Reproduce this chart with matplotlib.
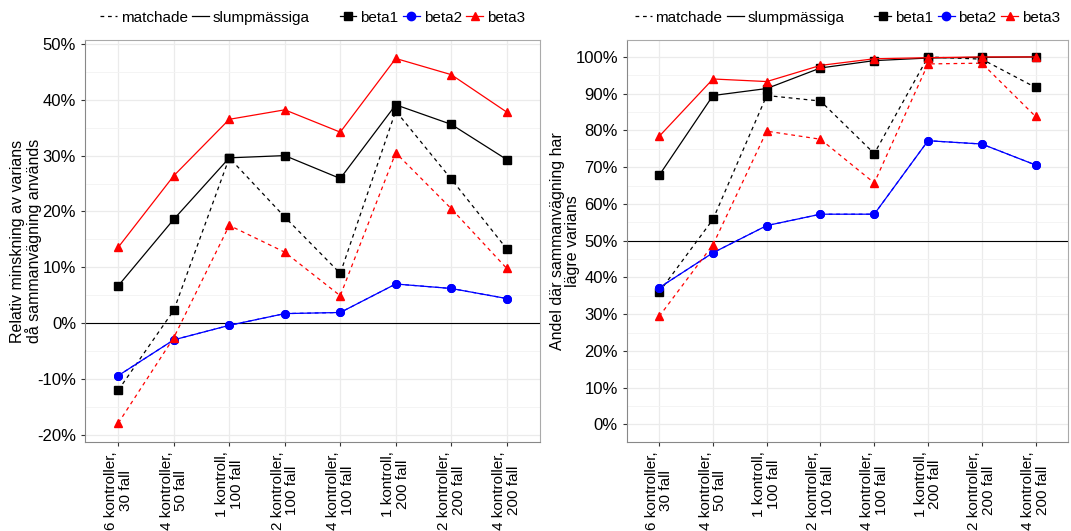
import matplotlib
matplotlib.use("Agg")
import matplotlib.pyplot as plt
from matplotlib.lines import Line2D
from matplotlib.ticker import FuncFormatter, MultipleLocator

plt.rcParams['font.family'] = ['Liberation Sans', 'DejaVu Sans']

# kategorier
kategorier = ["6 kontroller,\n30 fall", "4 kontroller,\n50 fall", "1 kontroll,\n100 fall",
              "2 kontroller,\n100 fall", "4 kontroller,\n100 fall", "1 kontroll,\n200 fall",
              "2 kontroller,\n200 fall", "4 kontroller,\n200 fall"]

# vänster panel: relativ minskning av varians (%)
v_beta1_slump = [6.7, 18.6, 29.6, 30.0, 25.9, 39.1, 35.6, 29.3]
v_beta1_match = [-12.0, 2.3, 29.6, 19.0, 8.9, 38.0, 25.8, 13.3]
v_beta2_slump = [-9.4, -3.0, -0.4, 1.7, 1.9, 7.0, 6.2, 4.4]
v_beta2_match = [-9.4, -3.0, -0.4, 1.7, 1.9, 7.0, 6.2, 4.4]
v_beta3_slump = [13.6, 26.4, 36.5, 38.2, 34.2, 47.4, 44.5, 37.8]
v_beta3_match = [-17.9, -2.6, 17.5, 12.7, 4.9, 30.5, 20.5, 9.8]

# höger panel: andel med lägre varians (%)
h_beta1_slump = [67.8, 89.5, 91.4, 97.0, 99.0, 99.7, 99.9, 100.0]
h_beta1_match = [36.0, 55.8, 89.5, 88.0, 73.7, 100.0, 99.4, 91.7]
h_beta2_slump = [37.2, 46.7, 54.1, 57.2, 57.2, 77.2, 76.3, 70.6]
h_beta2_match = [37.2, 46.7, 54.1, 57.2, 57.2, 77.2, 76.3, 70.6]
h_beta3_slump = [78.4, 94.0, 93.3, 97.7, 99.5, 99.8, 100.0, 100.0]
h_beta3_match = [29.4, 48.9, 79.8, 77.6, 65.7, 98.1, 98.3, 83.8]

stil = {"beta1": ("black", "s"), "beta2": ("blue", "o"), "beta3": ("red", "^")}

fig = plt.figure(figsize=(10.71, 5.31), dpi=100)
ax1 = fig.add_axes([0.0794, 0.1676, 0.4248, 0.757])
ax2 = fig.add_axes([0.5854, 0.1676, 0.4116, 0.757])

x = list(range(1, len(kategorier) + 1))


def rita(ax, serier, ref, ylim, ylabel, label_x):
    ax.set_axisbelow(True)
    ax.axhline(ref, color="black", lw=0.8, zorder=1)
    for namn, slump, match in serier:
        c, m = stil[namn]
        ms = 6 if m != "o" else 5.5
        ax.plot(x, match, color=c, ls=(0, (3, 3)), lw=0.9, marker=m, ms=ms, zorder=3)
        ax.plot(x, slump, color=c, ls="-", lw=0.9, marker=m, ms=ms, zorder=3)
    ax.set_xlim(0.4, 8.6)
    ax.set_ylim(*ylim)
    ax.set_xticks(x)
    ax.set_xticklabels(kategorier, rotation=90, fontsize=11, ha="center",
                       multialignment="center", linespacing=1.05)
    ax.yaxis.set_major_locator(MultipleLocator(10))
    ax.yaxis.set_minor_locator(MultipleLocator(5))
    ax.yaxis.set_major_formatter(FuncFormatter(lambda v, p: f"{v:.0f}%"))
    ax.tick_params(axis="y", labelsize=12, colors="#333333", labelcolor="black", length=3)
    ax.tick_params(axis="x", colors="#333333", labelcolor="black", length=3)
    ax.tick_params(which="minor", length=0)
    ax.grid(which="major", color="#EBEBEB", lw=0.9)
    ax.grid(which="minor", axis="y", color="#F3F3F3", lw=0.6)
    for s in ax.spines.values():
        s.set_color("#AAAAAA")
    ax.spines["left"].set_color("#888888")
    ax.spines["bottom"].set_color("#888888")
    ax.set_ylabel(ylabel, fontsize=11.5, linespacing=1.0, va="center")
    ax.yaxis.set_label_coords(label_x, 0.5)

    handles = [Line2D([], [], color="black", ls=(0, (3, 3)), lw=0.9),
               Line2D([], [], color="black", ls="-", lw=0.9),
               Line2D([], [], color="none")]
    labels = ["matchade", "slumpmässiga", ""]
    for namn in ["beta1", "beta2", "beta3"]:
        c, m = stil[namn]
        handles.append(Line2D([], [], color=c, marker=m, ms=6, lw=0.9))
        labels.append(namn)
    ax.legend(handles, labels, ncol=6, loc="lower center", bbox_to_anchor=(0.5, 1.0),
              frameon=False, fontsize=11, handlelength=1.1, handletextpad=0.25,
              columnspacing=0.3, borderaxespad=0.6)


rita(ax1, [("beta1", v_beta1_slump, v_beta1_match),
           ("beta2", v_beta2_slump, v_beta2_match),
           ("beta3", v_beta3_slump, v_beta3_match)],
     0, (-21.3, 50.7), "Relativ minskning av varians\ndå sammanvägning används", -0.13)

rita(ax2, [("beta1", h_beta1_slump, h_beta1_match),
           ("beta2", h_beta2_slump, h_beta2_match),
           ("beta3", h_beta3_slump, h_beta3_match)],
     50, (-4.8, 104.6), "Andel där sammanvägning har\nlägre varians", -0.14)

fig.savefig("out.png", dpi=100)
